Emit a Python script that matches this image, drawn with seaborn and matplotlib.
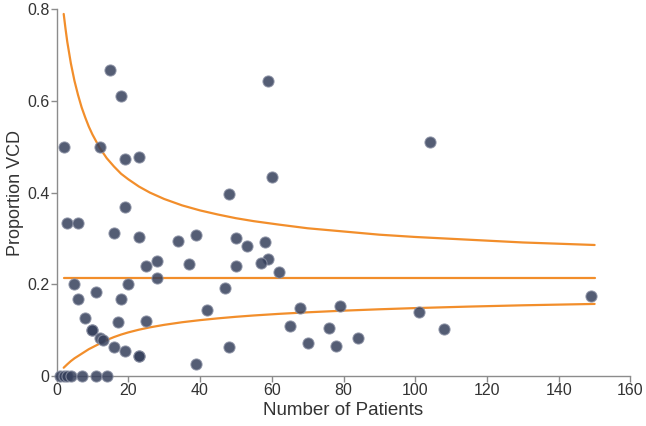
import numpy as np
import pandas as pd
import matplotlib
matplotlib.use("Agg")
import matplotlib.pyplot as plt
import seaborn as sns

# ============================
# data
# ============================

patients = [1, 2, 3, 4, 7, 11, 14,
            2, 15, 18, 12, 19, 23,
            3, 6, 19, 16, 23, 34, 39,
            25, 28, 37, 28, 5, 20, 6, 11, 18,
            8, 17, 25, 10, 10, 12, 13, 16, 19, 23, 23, 39,
            59, 60, 48, 50, 53, 58, 59, 57, 50, 62, 47, 42, 68, 79,
            65, 76, 70, 78, 84, 48,
            104, 101, 108, 149]
proportion_vcd = [0, 0, 0, 0, 0, 0, 0,
                  0.5, 0.667, 0.611, 0.5, 0.474, 0.478,
                  0.333, 0.333, 0.368, 0.3125, 0.304, 0.294, 0.308,
                  0.24, 0.25, 0.243, 0.214, 0.2, 0.2, 0.167, 0.182, 0.167,
                  0.125, 0.118, 0.12, 0.1, 0.1, 0.083, 0.077, 0.0625, 0.053, 0.043, 0.043, 0.026,
                  0.644, 0.433, 0.396, 0.3, 0.283, 0.293, 0.254, 0.246, 0.24, 0.226, 0.191, 0.143, 0.147, 0.152,
                  0.108, 0.105, 0.071, 0.064, 0.083, 0.0625,
                  0.51, 0.139, 0.102, 0.174]

# funnel limits
upper_n = [2, 2.5, 3, 4, 5, 6, 7, 8, 9, 10, 12, 14, 16, 18, 20, 23, 26, 30, 35,
           40, 45, 50, 55, 62, 70, 80, 90, 100, 115, 130, 150]
upper_limit = [0.790, 0.758, 0.729, 0.682, 0.644, 0.613, 0.586, 0.564, 0.544, 0.527,
               0.498, 0.475, 0.457, 0.441, 0.429, 0.413, 0.400, 0.386, 0.372,
               0.361, 0.352, 0.344, 0.3375, 0.330, 0.322, 0.315, 0.308, 0.303,
               0.297, 0.291, 0.2855]
lower_n = [2, 3, 4, 5, 6, 7, 8, 9, 10, 12, 14, 16, 18, 20, 23, 26, 30, 35,
           40, 45, 50, 55, 62, 70, 80, 90, 100, 115, 130, 150]
lower_limit = [0.0175, 0.025, 0.032, 0.038, 0.043, 0.048, 0.053, 0.058, 0.062,
               0.070, 0.078, 0.0844, 0.0899, 0.0946, 0.1006, 0.1056, 0.1111, 0.1168,
               0.1214, 0.1253, 0.1287, 0.1316, 0.1351, 0.1385, 0.1421, 0.1451, 0.1477,
               0.151, 0.1538, 0.1568]
mean_n = [2, 150]
mean_value = [0.213, 0.213]

x_ticks = [0, 20, 40, 60, 80, 100, 120, 140, 160]
y_ticks = [0, 0.2, 0.4, 0.6, 0.8]
y_labels = ["0", "0.2", "0.4", "0.6", "0.8"]

# ============================
# plot
# ============================

sns.set_style("ticks")
plt.rcParams["font.family"] = ["Liberation Sans", "DejaVu Sans"]

orange = "#f28e2b"
navy = "#36405c"
text_col = "#333333"
axis_col = "#8c8c8c"

df = pd.DataFrame({"n": patients, "p": proportion_vcd})
df_up = pd.DataFrame({"n": upper_n, "p": upper_limit})
df_lo = pd.DataFrame({"n": lower_n, "p": lower_limit})
df_mean = pd.DataFrame({"n": mean_n, "p": mean_value})

fig = plt.figure(figsize=(6.46, 4.26), dpi=100)
ax = fig.add_axes([0.0875, 0.118, 0.8885, 0.86])

for d in (df_up, df_lo, df_mean):
    sns.lineplot(data=d, x="n", y="p", ax=ax, color=orange, linewidth=1.6,
                 sort=True, estimator=None, zorder=2)

sns.scatterplot(data=df, x="n", y="p", ax=ax, color=navy, s=64, alpha=0.85,
                edgecolor="#8a90a3", linewidth=0.8, zorder=3, clip_on=False)

ax.set_xlim(0, 160)
ax.set_ylim(0, 0.8)
ax.set_xticks(x_ticks)
ax.set_yticks(y_ticks)
ax.set_yticklabels(y_labels)
ax.set_xlabel("Number of Patients", fontsize=13.5, color=text_col, labelpad=3)
ax.set_ylabel("Proportion VCD", fontsize=13, color=text_col, labelpad=2)
ax.tick_params(axis="both", labelsize=11.5, labelcolor=text_col, color=axis_col,
               length=4, width=1, pad=1)

sns.despine(ax=ax)
for side in ("left", "bottom"):
    ax.spines[side].set_color(axis_col)
    ax.spines[side].set_linewidth(1)

fig.savefig("out.png", dpi=100)
